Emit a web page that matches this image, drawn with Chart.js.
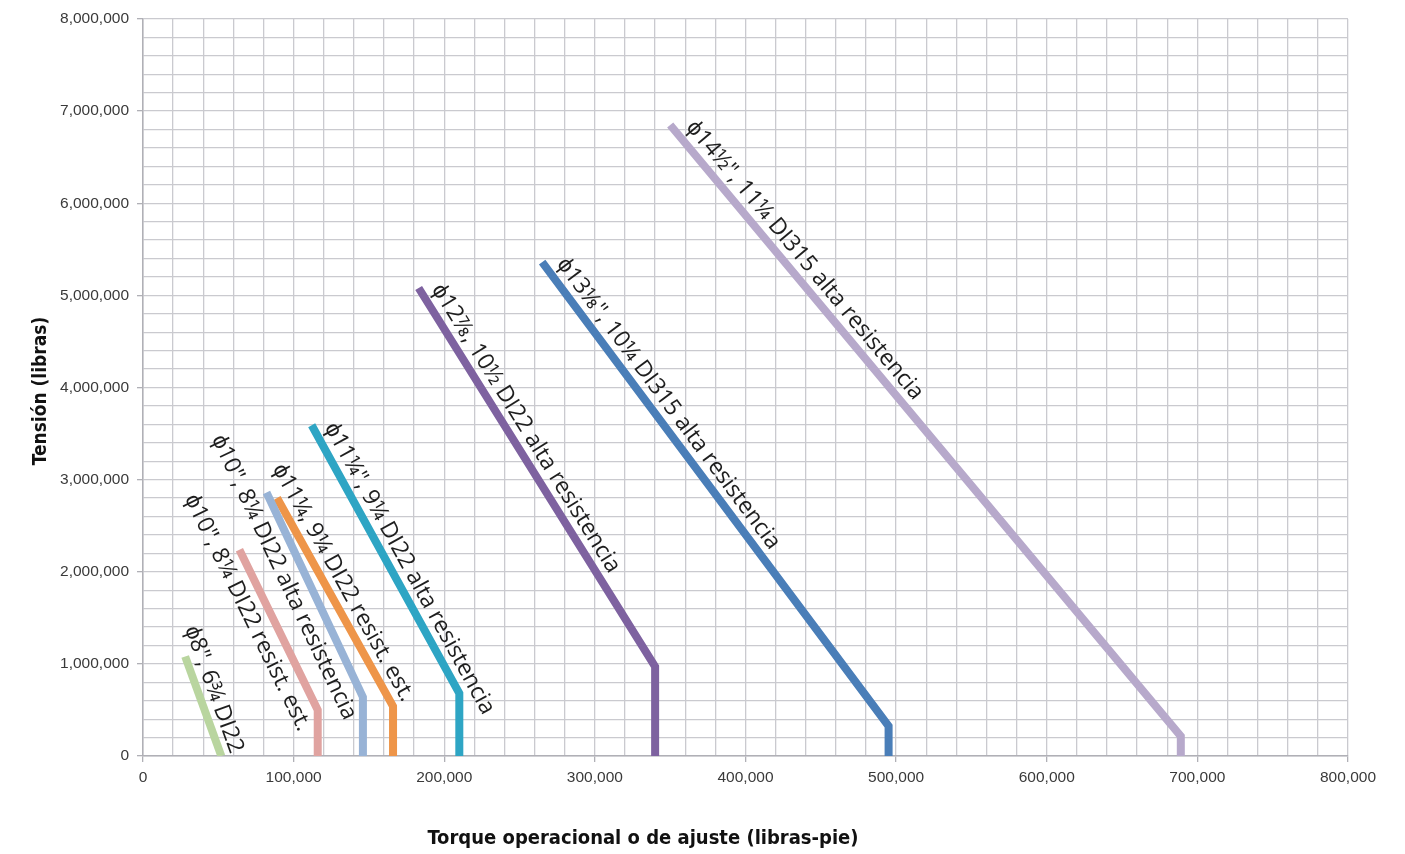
<!DOCTYPE html>
<html>
<head>
<meta charset="utf-8">
<script src="https://cdn.jsdelivr.net/npm/chart.js@4.4.1/dist/chart.umd.min.js"></script>
<style>
  body { margin: 0; background: #fff; }
  #wrap { width: 1405px; height: 854px; position: relative; }
</style>
</head>
<body>
<div id="wrap"><canvas id="torque-chart"></canvas></div>
<script>
// torque (libras-pie) / tension (libras): top, knee, foot
const phi8X = [28000, 52000],            phi8Y = [1080000, 0];
const phi10estX = [64000, 116000, 116000],  phi10estY = [2240000, 500000, 0];
const phi10altX = [82000, 146000, 146000],  phi10altY = [2860000, 640000, 0];
const phi11estX = [89000, 166000, 166000],  phi11estY = [2800000, 540000, 0];
const phi11altX = [112000, 210000, 210000], phi11altY = [3590000, 680000, 0];
const phi12X = [183000, 340000, 340000],    phi12Y = [5080000, 970000, 0];
const phi13X = [265000, 495000, 495000],    phi13Y = [5360000, 325000, 0];
const phi14X = [350000, 689000, 689000],    phi14Y = [6850000, 215000, 0];

const seriesNames = [
  'ϕ8", 6¾ DI22',
  'ϕ10", 8¼ DI22 resist. est.',
  'ϕ10", 8¼ DI22 alta resistencia',
  'ϕ11¼, 9¼ DI22 resist. est.',
  'ϕ11¼", 9¼ DI22 alta resistencia',
  'ϕ12⅞, 10½ DI22 alta resistencia',
  'ϕ13⅛", 10¼ DI315 alta resistencia',
  'ϕ14½", 11¼ DI315 alta resistencia'
];
const xTitle = 'Torque operacional o de ajuste (libras-pie)';
const yTitle = 'Tensión (libras)';

const colors = ['#b9d59f', '#e0a3a0', '#98b3d6', '#ee9549', '#2ea5c4', '#7e62a0', '#4a7eb8', '#b7a9cb'];
// label offset from the top point: [along the line, perpendicular] in px
const labelOffsets = [[-26, 9], [-70, -27], [-72, -27], [-28, 10], [8, 10], [8, 10], [10, 10], [12, 10]];

const xs = [phi8X, phi10estX, phi10altX, phi11estX, phi11altX, phi12X, phi13X, phi14X];
const ys = [phi8Y, phi10estY, phi10altY, phi11estY, phi11altY, phi12Y, phi13Y, phi14Y];

const datasets = xs.map(function (xv, i) {
  return {
    label: seriesNames[i],
    data: xv.map(function (x, j) { return {x: x, y: ys[i][j]}; }),
    showLine: true,
    borderColor: colors[i],
    backgroundColor: colors[i],
    borderWidth: 8,
    pointRadius: 0,
    borderCapStyle: 'butt',
    borderJoinStyle: 'miter'
  };
});

const lineLabels = {
  id: 'lineLabels',
  afterDatasetsDraw(chart) {
    const ctx = chart.ctx;
    ctx.save();
    ctx.font = '23px "Open Sans", sans-serif';
    ctx.fillStyle = '#1e1e1e';
    ctx.textBaseline = 'alphabetic';
    chart.data.datasets.forEach(function (ds, i) {
      const pts = chart.getDatasetMeta(i).data;
      const a = Math.atan2(pts[1].y - pts[0].y, pts[1].x - pts[0].x);
      const ux = Math.cos(a), uy = Math.sin(a);
      const nx = Math.sin(a), ny = -Math.cos(a);
      const off = labelOffsets[i];
      ctx.save();
      ctx.translate(pts[0].x + ux * off[0] + nx * off[1], pts[0].y + uy * off[0] + ny * off[1]);
      ctx.rotate(a);
      ctx.fillText(ds.label, 0, 0);
      ctx.restore();
    });
    ctx.restore();
  },
  afterDraw(chart) {
    const ctx = chart.ctx;
    ctx.save();
    ctx.fillStyle = '#111';
    ctx.textAlign = 'center';
    ctx.textBaseline = 'middle';
    ctx.font = 'bold 20px "Liberation Sans Narrow", "DejaVu Sans Condensed", sans-serif';
    ctx.fillText(xTitle, 643, 839);
    ctx.font = 'bold 19px "Liberation Sans Narrow", "DejaVu Sans Condensed", sans-serif';
    ctx.translate(41, 391);
    ctx.rotate(-Math.PI / 2);
    ctx.fillText(yTitle, 0, 0);
    ctx.restore();
  }
};

const tickFont = {family: '"Liberation Sans", Arial, sans-serif', size: 15.5};

new Chart(document.getElementById('torque-chart'), {
  type: 'scatter',
  data: {datasets: datasets},
  plugins: [lineLabels],
  options: {
    responsive: true,
    maintainAspectRatio: false,
    animation: false,
    layout: {padding: {top: 19, right: 57, bottom: 0, left: 0}},
    plugins: {legend: {display: false}, tooltip: {enabled: false}},
    scales: {
      x: {
        type: 'linear', min: 0, max: 800000,
        afterFit: function (s) { s.height = 98; },
        ticks: {
          stepSize: 20000, autoSkip: false, maxRotation: 0, padding: 6,
          color: '#3a3a3a', font: tickFont,
          callback: function (v) { return v % 100000 === 0 ? v.toLocaleString('en-US') : ''; }
        },
        grid: {
          color: '#cacacf', lineWidth: 1.3, tickLength: 6,
          tickColor: function (c) { return c.tick && c.tick.value % 100000 === 0 ? '#b0b0b6' : 'rgba(0,0,0,0)'; }
        },
        border: {color: '#b0b0b6', width: 1.5}
      },
      y: {
        type: 'linear', min: 0, max: 8000000,
        afterFit: function (s) { s.width = 143; },
        ticks: {
          stepSize: 200000, autoSkip: false, padding: 8,
          color: '#3a3a3a', font: tickFont,
          callback: function (v) { return v % 1000000 === 0 ? v.toLocaleString('en-US') : ''; }
        },
        grid: {
          color: '#cacacf', lineWidth: 1.3, tickLength: 6,
          tickColor: function (c) { return c.tick && c.tick.value % 1000000 === 0 ? '#b0b0b6' : 'rgba(0,0,0,0)'; }
        },
        border: {color: '#b0b0b6', width: 1.5}
      }
    }
  }
});
</script>
</body>
</html>
